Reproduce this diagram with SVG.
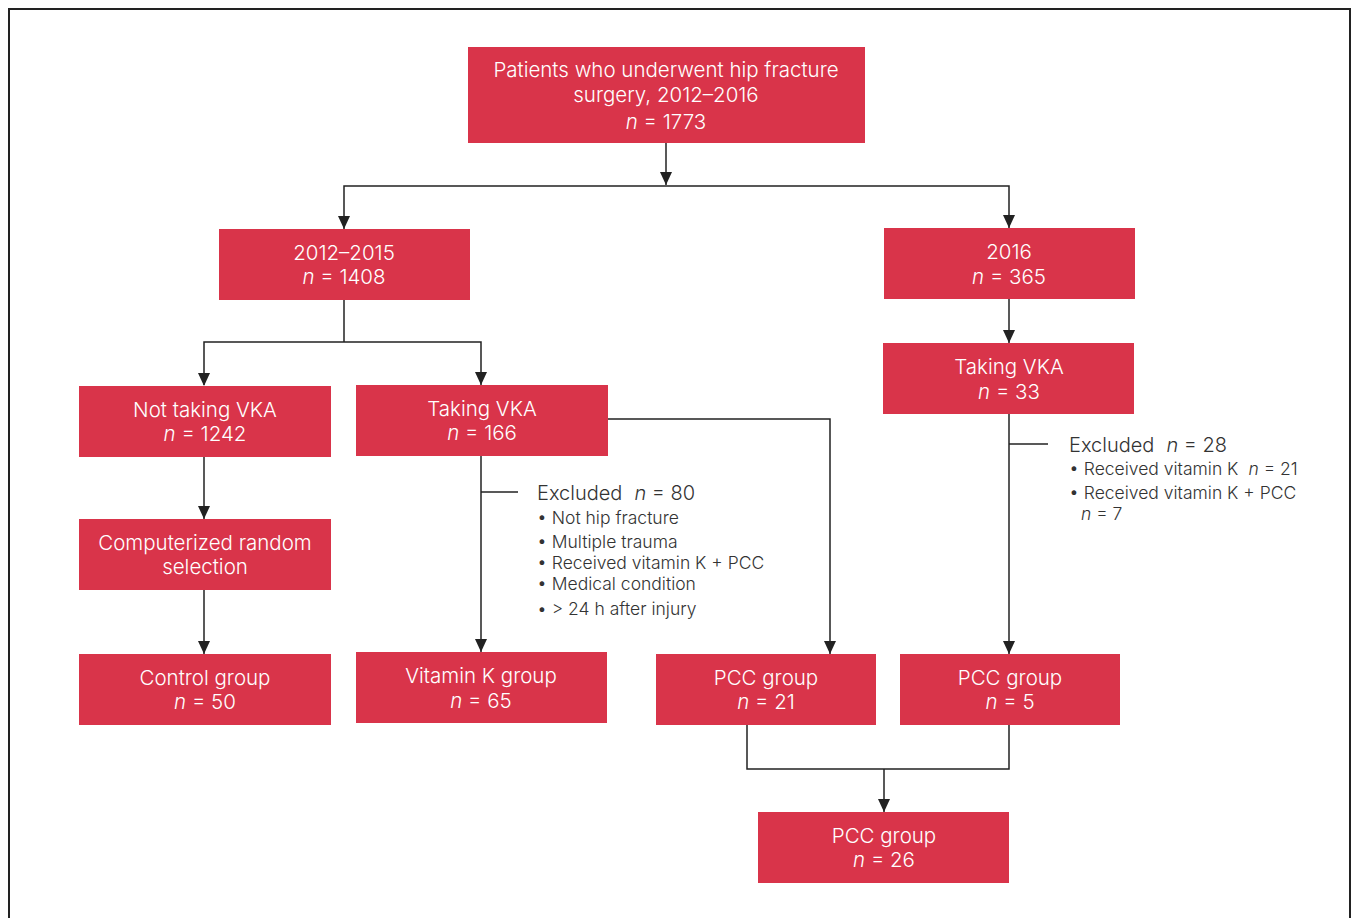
<svg xmlns="http://www.w3.org/2000/svg" width="1354" height="918" viewBox="0 0 1354 918">
<defs>
<style>
.box{fill:#D9344A;}
.bt{fill:#fff;font-family:Inter,"Liberation Sans",Arial,sans-serif;font-weight:300;font-size:20.5px;text-anchor:middle;}
.ln{fill:none;stroke:#222;stroke-width:1.5;}
.ex{fill:#333;font-family:Inter,"Liberation Sans",Arial,sans-serif;font-weight:300;font-size:20px;}
.exs{fill:#333;font-family:Inter,"Liberation Sans",Arial,sans-serif;font-weight:300;font-size:17.5px;}
</style>
</defs>
<rect width="1354" height="918" fill="#fff"/>
<path d="M9,920 V9 H1350 V920" fill="none" stroke="#222" stroke-width="2"/>
<g id="connectors">
<path class="ln" d="M666,143 V185"/>
<path d="M660,172 L672,172 L666,185 Z" fill="#222"/>
<path class="ln" d="M344,229 V186 H1009 V229"/>
<path d="M338,216 L350,216 L344,229 Z" fill="#222"/>
<path d="M1003,215 L1015,215 L1009,228 Z" fill="#222"/>
<path class="ln" d="M344,300 V342"/>
<path class="ln" d="M204,385 V342 H481 V385"/>
<path d="M198,373 L210,373 L204,386 Z" fill="#222"/>
<path d="M475,372 L487,372 L481,385 Z" fill="#222"/>
<path class="ln" d="M204,457 V519"/>
<path d="M198,506 L210,506 L204,519 Z" fill="#222"/>
<path class="ln" d="M204,590 V654"/>
<path d="M198,641 L210,641 L204,654 Z" fill="#222"/>
<path class="ln" d="M481,456 V652"/>
<path d="M475,639 L487,639 L481,652 Z" fill="#222"/>
<path class="ln" d="M481,492 H518"/>
<path class="ln" d="M608,419 H830 V654"/>
<path d="M824,641 L836,641 L830,654 Z" fill="#222"/>
<path class="ln" d="M1009,299 V343"/>
<path d="M1003,330 L1015,330 L1009,343 Z" fill="#222"/>
<path class="ln" d="M1009,414 V654"/>
<path d="M1003,641 L1015,641 L1009,654 Z" fill="#222"/>
<path class="ln" d="M1009,444 H1048"/>
<path class="ln" d="M747,725 V769 H1009 V725"/>
<path class="ln" d="M884,769 V812"/>
<path d="M878,799 L890,799 L884,812 Z" fill="#222"/>
</g>
<g id="n-top"><rect class="box" x="468" y="47" width="397" height="96"/>
<text class="bt" x="666" y="77">Patients who underwent hip fracture</text>
<text class="bt" x="666" y="102">surgery, 2012–2016</text>
<text class="bt" x="666" y="129"><tspan font-style="italic">n</tspan> = 1773</text></g>
<g id="n-2012"><rect class="box" x="219" y="229" width="251" height="71"/>
<text class="bt" x="344" y="260">2012–2015</text>
<text class="bt" x="344" y="284"><tspan font-style="italic">n</tspan> = 1408</text></g>
<g id="n-2016"><rect class="box" x="884" y="228" width="251" height="71"/>
<text class="bt" x="1009" y="259">2016</text>
<text class="bt" x="1009" y="284"><tspan font-style="italic">n</tspan> = 365</text></g>
<g id="n-notvka"><rect class="box" x="79" y="386" width="252" height="71"/>
<text class="bt" x="205" y="417">Not taking VKA</text>
<text class="bt" x="205" y="441"><tspan font-style="italic">n</tspan> = 1242</text></g>
<g id="n-vka1"><rect class="box" x="356" y="385" width="252" height="71"/>
<text class="bt" x="482" y="416">Taking VKA</text>
<text class="bt" x="482" y="440"><tspan font-style="italic">n</tspan> = 166</text></g>
<g id="n-vka2"><rect class="box" x="883" y="343" width="251" height="71"/>
<text class="bt" x="1009" y="374">Taking VKA</text>
<text class="bt" x="1009" y="399"><tspan font-style="italic">n</tspan> = 33</text></g>
<g id="n-rand"><rect class="box" x="79" y="519" width="252" height="71"/>
<text class="bt" x="205" y="550">Computerized random</text>
<text class="bt" x="205" y="574">selection</text></g>
<g id="n-control"><rect class="box" x="79" y="654" width="252" height="71"/>
<text class="bt" x="205" y="685">Control group</text>
<text class="bt" x="205" y="709"><tspan font-style="italic">n</tspan> = 50</text></g>
<g id="n-vitk"><rect class="box" x="356" y="652" width="251" height="71"/>
<text class="bt" x="481" y="683">Vitamin K group</text>
<text class="bt" x="481" y="708"><tspan font-style="italic">n</tspan> = 65</text></g>
<g id="n-pcc21"><rect class="box" x="656" y="654" width="220" height="71"/>
<text class="bt" x="766" y="685">PCC group</text>
<text class="bt" x="766" y="709"><tspan font-style="italic">n</tspan> = 21</text></g>
<g id="n-pcc5"><rect class="box" x="900" y="654" width="220" height="71"/>
<text class="bt" x="1010" y="685">PCC group</text>
<text class="bt" x="1010" y="709"><tspan font-style="italic">n</tspan> = 5</text></g>
<g id="n-pcc26"><rect class="box" x="758" y="812" width="251" height="71"/>
<text class="bt" x="884" y="843">PCC group</text>
<text class="bt" x="884" y="867"><tspan font-style="italic">n</tspan> = 26</text></g>
<g id="ex1">
<text class="ex" x="537" y="500">Excluded<tspan dx="12" font-style="italic">n</tspan> = 80</text>
<text class="exs" x="537" y="524">• Not hip fracture</text>
<text class="exs" x="537" y="548">• Multiple trauma</text>
<text class="exs" x="537" y="569">• Received vitamin K + PCC</text>
<text class="exs" x="537" y="590">• Medical condition</text>
<text class="exs" x="537" y="615">• &gt; 24 h after injury</text>
</g>
<g id="ex2">
<text class="ex" x="1069" y="452">Excluded<tspan dx="12" font-style="italic">n</tspan> = 28</text>
<text class="exs" x="1069" y="475">• Received vitamin K<tspan dx="10" font-style="italic">n</tspan> = 21</text>
<text class="exs" x="1069" y="499">• Received vitamin K + PCC</text>
<text class="exs" x="1081" y="520"><tspan font-style="italic">n</tspan> = 7</text>
</g>
</svg>
